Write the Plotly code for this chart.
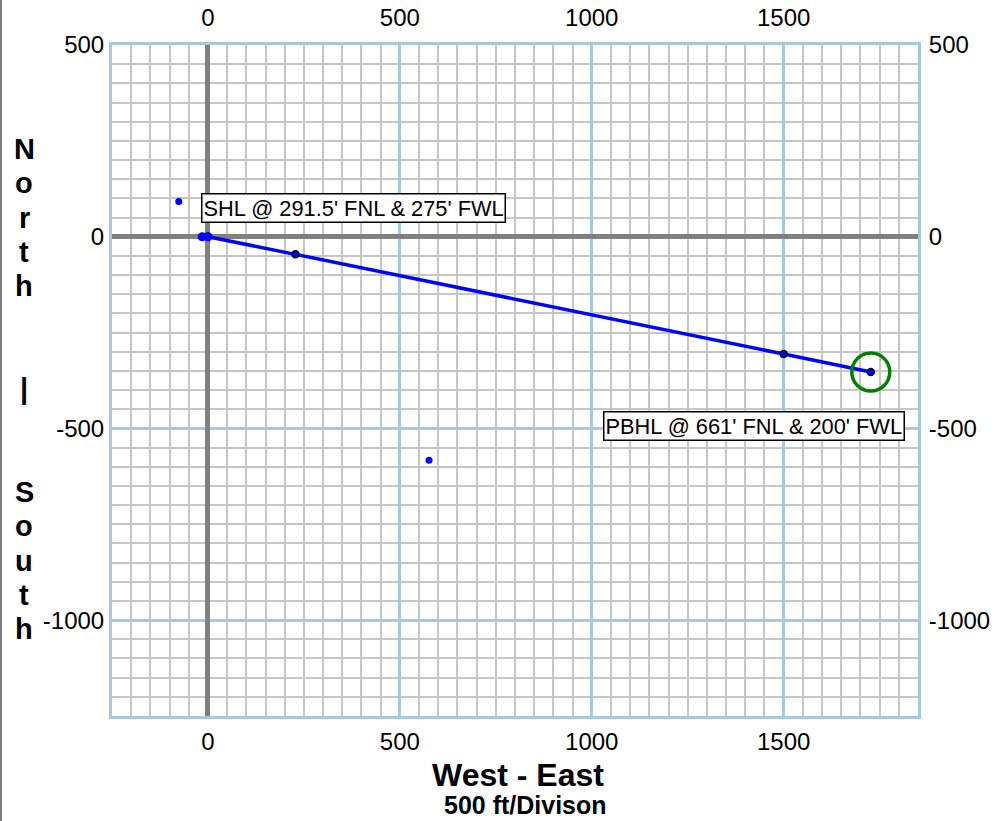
import plotly.graph_objects as go

# Planned wellbore trajectory (feet East, feet North)
path_x = [0, 228, 1500, 1727]
path_y = [0, -46, -306, -353]

# Surface / start points
start_x = [-15, 0]
start_y = [0, 0]

# Other isolated points
other_x = [-76, 576]
other_y = [92, -583]

# Bottom hole location
bhl_x = [1727]
bhl_y = [-353]

# Tick labels
x_tickvals = [0, 500, 1000, 1500]
x_ticktext = ["0", "500", "1000", "1500"]
y_tickvals = [500, 0, -500, -1000]
y_ticktext = ["500", "0", "-500", "-1000"]

# Labels
shl_text = "SHL @ 291.5' FNL & 275' FWL"
shl_pos = (-18, 76)
pbhl_text = "PBHL @ 661' FNL & 200' FWL"
pbhl_pos = (1423, -494)
x_title = "West - East"
x_subtitle = "500 ft/Divison"
y_title_letters = list("North") + ["", "", "|", "", ""] + list("South")

x_range = [-250, 1850]
y_range = [-1250, 500]
minor = 50

FONT = "Liberation Sans, Arial, sans-serif"
MAJOR_C = "#a8c8e0"
MINOR_C = "#c6c6c6"
TICK_SIZE = 24
ANN_SIZE = 21.8

# page-pixel layout helpers
W, H = 994, 821
PL, PR, PT, PB = 112, 918, 45, 716


def px_x(p):
    return (p - PL) / (PR - PL)


def px_y(p):
    return (PB - p) / (PB - PT)


fig = go.Figure()

fig.add_trace(go.Scatter(x=path_x, y=path_y, mode="lines+markers",
                         line=dict(color="#0000ff", width=3.5),
                         marker=dict(size=7, color="#0000ff", line=dict(color="black", width=1.5)),
                         hoverinfo="skip"))
fig.add_trace(go.Scatter(x=start_x, y=start_y, mode="markers",
                         marker=dict(size=9, color="#0000ff"), hoverinfo="skip"))
fig.add_trace(go.Scatter(x=other_x, y=other_y, mode="markers",
                         marker=dict(size=7, color="#0000ff"), hoverinfo="skip"))
fig.add_trace(go.Scatter(x=bhl_x, y=bhl_y, mode="markers",
                         marker=dict(size=38, symbol="circle-open", color="#008000",
                                     line=dict(width=3.5, color="#008000")),
                         hoverinfo="skip"))
# invisible trace for secondary axes
fig.add_trace(go.Scatter(x=x_range, y=y_range, mode="markers", marker=dict(opacity=0),
                         xaxis="x2", yaxis="y2", hoverinfo="skip"))

axis_common = dict(
    showgrid=True, gridcolor=MAJOR_C, gridwidth=3,
    minor=dict(dtick=minor, tick0=0, showgrid=True, gridcolor=MINOR_C, gridwidth=2),
    zeroline=True, zerolinecolor="#808080", zerolinewidth=4.5,
    showline=True, linecolor=MAJOR_C, linewidth=3, mirror=True,
    tickfont=dict(family=FONT, size=TICK_SIZE, color="black"),
)
sec_common = dict(showgrid=False, zeroline=False, showline=False,
                  tickfont=dict(family=FONT, size=TICK_SIZE, color="black"))

fig.update_layout(
    width=W, height=H,
    margin=dict(l=PL, r=W - PR, t=PT, b=H - PB, autoexpand=False),
    paper_bgcolor="white", plot_bgcolor="white",
    showlegend=False,
    font=dict(family=FONT, color="black"),
    xaxis=dict(range=x_range, ticks="outside", ticklen=2, tickcolor="rgba(0,0,0,0)",
               tickvals=x_tickvals, ticktext=x_ticktext, **axis_common),
    yaxis=dict(range=y_range, ticks="",
               tickvals=y_tickvals, ticktext=y_ticktext, **axis_common),
    xaxis2=dict(range=x_range, overlaying="x", side="top", ticks="outside", ticklen=8,
                tickcolor="rgba(0,0,0,0)", tickvals=x_tickvals, ticktext=x_ticktext, **sec_common),
    yaxis2=dict(range=y_range, overlaying="y", side="right", ticks="outside", ticklen=5,
                tickcolor="rgba(0,0,0,0)", tickvals=y_tickvals, ticktext=y_ticktext, **sec_common),
)

fig.add_annotation(x=shl_pos[0], y=shl_pos[1], text=shl_text, showarrow=False,
                   xanchor="left", yanchor="middle", font=dict(size=ANN_SIZE, family=FONT, color="black"),
                   bgcolor="white", bordercolor="black", borderwidth=1.5, borderpad=1)
fig.add_annotation(x=pbhl_pos[0], y=pbhl_pos[1], text=pbhl_text, showarrow=False,
                   xanchor="center", yanchor="middle", font=dict(size=ANN_SIZE, family=FONT, color="black"),
                   bgcolor="white", bordercolor="black", borderwidth=1.5, borderpad=1)

fig.add_annotation(xref="paper", yref="paper", x=px_x(518), y=px_y(775), text="<b>" + x_title + "</b>",
                   showarrow=False, xanchor="center", yanchor="middle",
                   font=dict(size=32, family=FONT, color="black"))
fig.add_annotation(xref="paper", yref="paper", x=px_x(525), y=px_y(805), text="<b>" + x_subtitle + "</b>",
                   showarrow=False, xanchor="center", yanchor="middle",
                   font=dict(size=25, family=FONT, color="black"))

for i, ch in enumerate(y_title_letters):
    if not ch:
        continue
    fig.add_annotation(xref="paper", yref="paper", x=px_x(24), y=px_y(149 + 34.3 * i),
                       text="<b>" + ch + "</b>", showarrow=False,
                       xanchor="center", yanchor="middle",
                       font=dict(size=29, family=FONT, color="black"))

# page border on the left
fig.add_shape(type="line", xref="paper", yref="paper", x0=px_x(1), x1=px_x(1), y0=px_y(H), y1=px_y(0),
              line=dict(color="#808080", width=2))

fig.write_html("out.html", config={"displayModeBar": False},
               post_script="document.body.style.margin='0px';")
